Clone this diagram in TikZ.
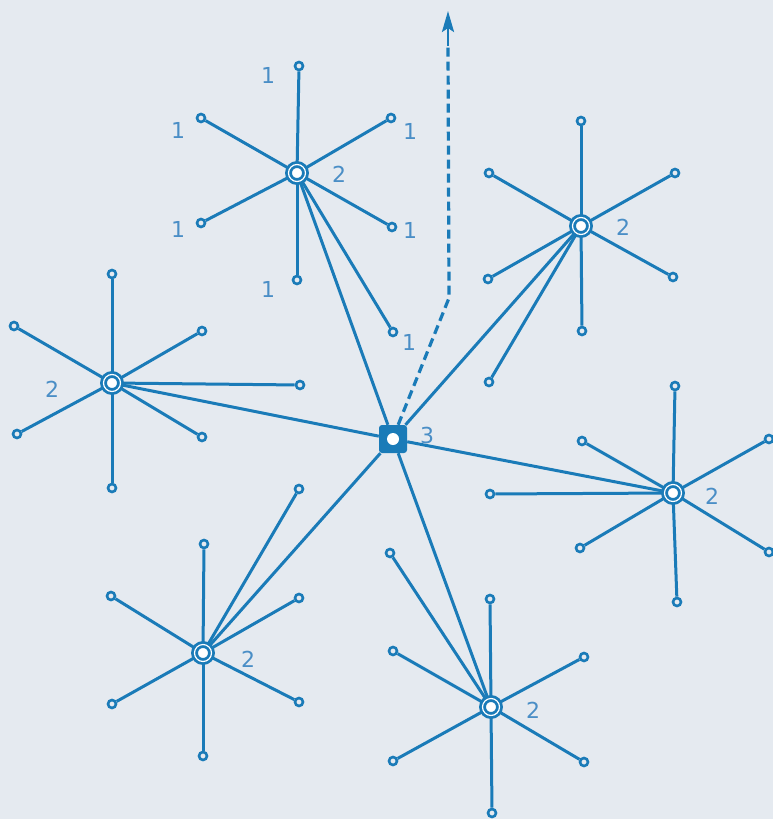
\documentclass[tikz,border=0pt]{standalone}
\usepackage{fontspec}
\setmainfont{DejaVu Sans}
\usetikzlibrary{arrows.meta}
\definecolor{bg}{HTML}{E5EAF0}
\definecolor{ln}{HTML}{1A7BB8}
\definecolor{lb}{HTML}{4A8EC6}
\begin{document}
\begin{tikzpicture}[x=1pt,y=-1pt,
  edge/.style={draw=ln,line width=3pt},
  leaf/.style={circle,draw=ln,line width=2.6pt,fill=bg,minimum size=8pt,inner sep=0pt},
  hub/.style={circle,draw=ln,line width=2.8pt,double=white,double distance=1.2pt,fill=white,minimum size=17pt,inner sep=0pt},
  centre/.style={rectangle,fill=ln,rounded corners=3pt,minimum size=28pt,inner sep=0pt,
    path picture={\fill[white] (path picture bounding box.center) circle (6pt);}},
  lab/.style={text=lb,font=\fontsize{22}{22}\selectfont,inner sep=0pt}]
\fill[bg] (0,0) rectangle (773,819);
\useasboundingbox (0,0) rectangle (773,819);

% hubs
\node[hub] (H1) at (297,173) {};
\node[hub] (H2) at (581,226) {};
\node[hub] (H3) at (112,383) {};
\node[hub] (H4) at (673,493) {};
\node[hub] (H5) at (203,653) {};
\node[hub] (H6) at (491,707) {};
\node[centre] (C) at (393,439) {};

% leaves
\foreach \n/\x/\y in {a1/299/66,a2/201/118,a3/391/118,a4/201/223,a5/392/227,a6/297/280,a7/393/332}
  {\node[leaf] (\n) at (\x,\y) {}; \draw[edge] (H1) -- (\n);}
\foreach \n/\x/\y in {b1/581/121,b2/489/173,b3/675/173,b4/488/279,b5/673/277,b6/582/331,b7/489/382}
  {\node[leaf] (\n) at (\x,\y) {}; \draw[edge] (H2) -- (\n);}
\foreach \n/\x/\y in {c1/112/274,c2/14/326,c3/202/331,c4/17/434,c5/202/437,c6/112/488,c7/300/385}
  {\node[leaf] (\n) at (\x,\y) {}; \draw[edge] (H3) -- (\n);}
\foreach \n/\x/\y in {d1/675/386,d2/582/441,d3/769/439,d4/490/494,d5/580/548,d6/769/552,d7/677/602}
  {\node[leaf] (\n) at (\x,\y) {}; \draw[edge] (H4) -- (\n);}
\foreach \n/\x/\y in {e1/204/544,e2/111/596,e3/299/598,e4/112/704,e5/299/702,e6/203/756,e7/299/489}
  {\node[leaf] (\n) at (\x,\y) {}; \draw[edge] (H5) -- (\n);}
\foreach \n/\x/\y in {f1/490/599,f2/393/651,f3/584/657,f4/393/761,f5/584/762,f6/492/813,f7/390/553}
  {\node[leaf] (\n) at (\x,\y) {}; \draw[edge] (H6) -- (\n);}

% hub to centre
\foreach \h in {H1,H2,H3,H4,H5,H6} {\draw[edge] (\h) -- (C);}

% dashed arrow
\coordinate (bend) at (449,298);
\coordinate (head) at (448,46);
\coordinate (tip) at (448,11);
\draw[edge,line width=3.2pt,dash pattern=on 9pt off 5pt] (C.70) -- (bend) -- (head);
\draw[edge,line width=2.8pt,-{Stealth[length=21pt,width=12pt,inset=4pt]}] (head) -- (tip);

% labels
\node[lab] (l1) at (268,75) {1};
\node[lab] (l2) at (178,130) {1};
\node[lab] (l3) at (410,131) {1};
\node[lab] (l4) at (178,229) {1};
\node[lab] (l5) at (410,230) {1};
\node[lab] (l6) at (268,289) {1};
\node[lab] (l7) at (409,342) {1};
\node[lab] (n1) at (339,174) {2};
\node[lab] (n2) at (623,227) {2};
\node[lab] (n3) at (52,389) {2};
\node[lab] (n4) at (712,496) {2};
\node[lab] (n5) at (248,659) {2};
\node[lab] (n6) at (533,710) {2};
\node[lab] (n0) at (427,435) {3};
\end{tikzpicture}
\end{document}
